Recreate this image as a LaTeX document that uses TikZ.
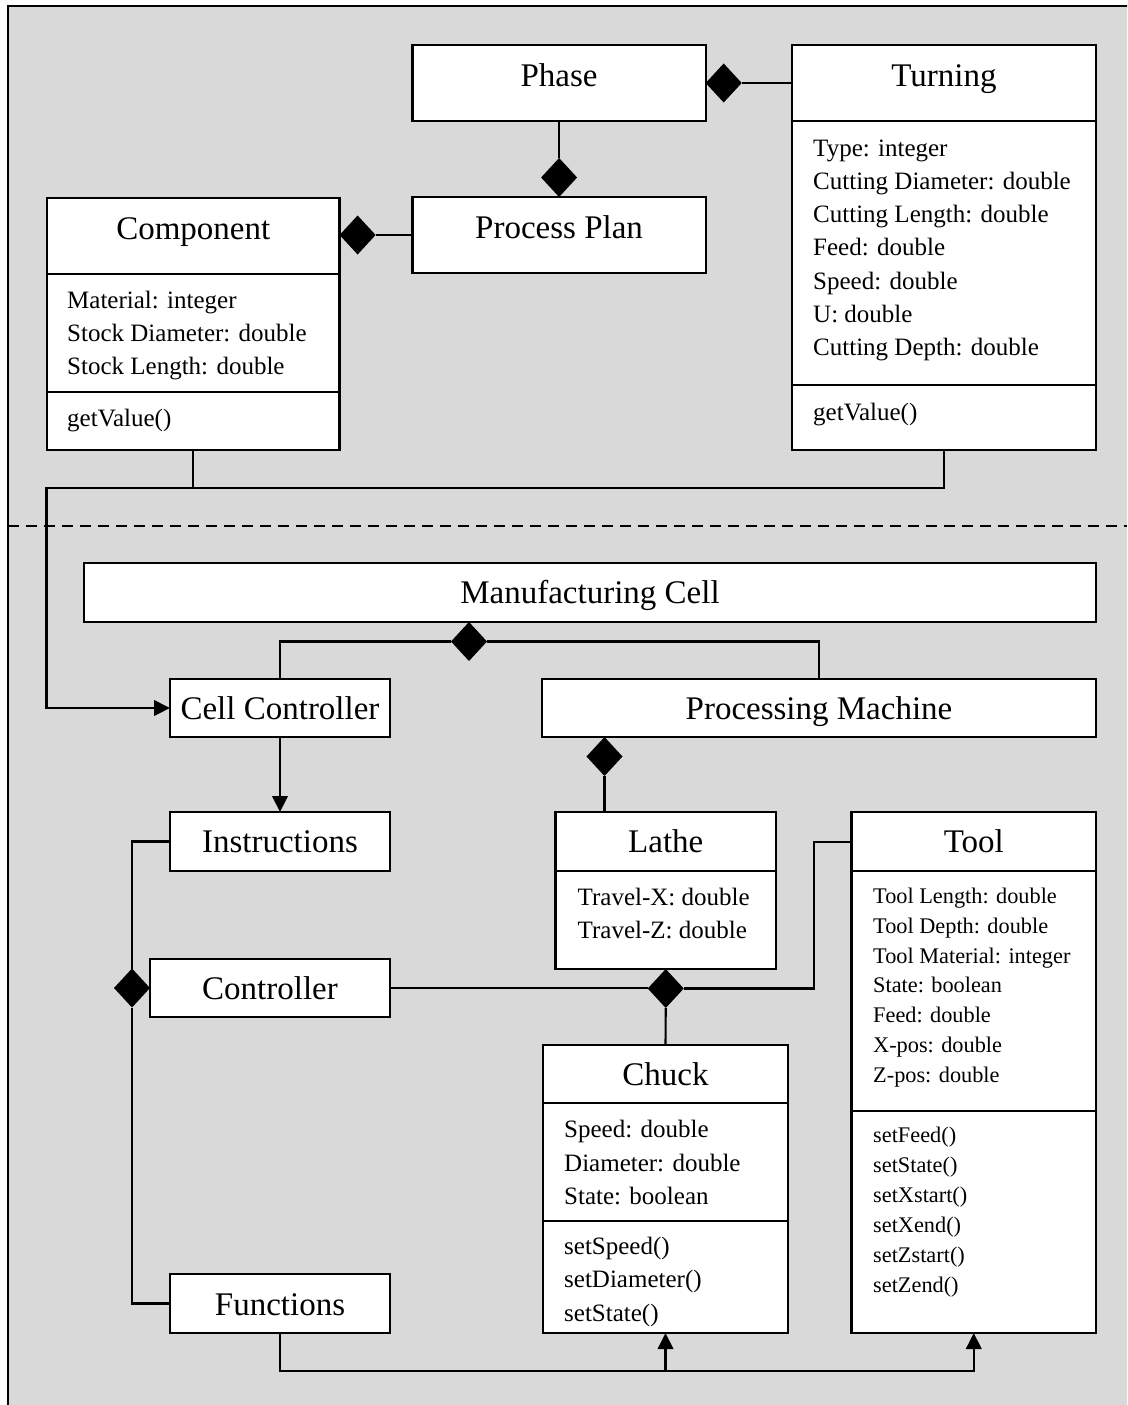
\documentclass[tikz,border=0pt]{standalone}
\usepackage{fontspec}
\setmainfont{Liberation Serif}
\usetikzlibrary{arrows.meta,shapes.geometric,calc}
\definecolor{panelgray}{RGB}{217,217,217}

\tikzset{
  box/.style={draw, fill=white, line width=2.3pt, anchor=north west, inner sep=0pt, outer sep=0pt},
  ttl/.style={font=\fontsize{33}{39}\selectfont, inner sep=0pt, text height=21.8pt, text depth=0pt, anchor=center},
  attr/.style={font=\fontsize{25}{30}\selectfont, inner sep=0pt, text height=16.5pt, text depth=0pt, anchor=west},
  sattr/.style={font=\fontsize{22.3}{27}\selectfont, inner sep=0pt, text height=14.7pt, text depth=0pt, anchor=west},
  comp/.style={diamond, fill=black, minimum width=36pt, minimum height=39pt, inner sep=0pt, outer sep=0pt},
  link/.style={line width=2.1pt},
  sepline/.style={line width=2.3pt},
  arr/.style={link, -{Triangle[length=16pt,width=15.5pt]}},
}

\begin{document}
\begin{tikzpicture}[x=1pt, y=-1pt]
  \useasboundingbox (0,0) rectangle (1127,1405);
  \clip (0,0) rectangle (1127,1405);

  % panel and the dashed divider
  \draw[fill=panelgray, line width=2pt] (7.5,6) rectangle (1140,1420);
  \draw[line width=1.6pt, dash pattern=on 11pt off 7pt] (7.5,526) -- (1127,526);

  % ---------- upper part: process plan ----------
  \node[box, minimum width=293.2pt, minimum height=76pt] (phase) at (412.5,45) {};
  \node[ttl] (phaseT) at ([yshift=-31pt]phase.north) {Phase};

  \node[box, minimum width=293.2pt, minimum height=76pt] (pplan) at (412.5,197) {};
  \node[ttl] (pplanT) at ([yshift=-31pt]pplan.north) {Process Plan};

  \node[box, minimum width=304pt, minimum height=405pt] (turning) at (792,45) {};
  \node[ttl] (turningT) at ([yshift=-31pt]turning.north) {Turning};
  \draw[sepline] ([yshift=-76pt]turning.north west) -- ([yshift=-76pt]turning.north east);
  \draw[sepline] ([yshift=-340pt]turning.north west) -- ([yshift=-340pt]turning.north east);
  \foreach \t [count=\i] in {Type: integer, Cutting Diameter: double, Cutting Length: double,
      Feed: double, Speed: double, U: double, Cutting Depth: double}
    \node[attr] (turninga\i) at ([xshift=21pt,yshift={-103pt-(\i-1)*33.2pt}]turning.north west) {\t};
  \node[attr] (turningm1) at ([xshift=21pt,yshift=-367pt]turning.north west) {getValue()};

  \node[box, minimum width=292.6pt, minimum height=252pt] (comp) at (47,198) {};
  \node[ttl] (compT) at ([yshift=-31pt]comp.north) {Component};
  \draw[sepline] ([yshift=-76pt]comp.north west) -- ([yshift=-76pt]comp.north east);
  \draw[sepline] ([yshift=-194pt]comp.north west) -- ([yshift=-194pt]comp.north east);
  \foreach \t [count=\i] in {Material: integer, Stock Diameter: double, Stock Length: double}
    \node[attr] (compa\i) at ([xshift=20pt,yshift={-102pt-(\i-1)*33.3pt}]comp.north west) {\t};
  \node[attr] (compm1) at ([xshift=20pt,yshift=-220pt]comp.north west) {getValue()};

  % compositions of the plan
  \node[comp, anchor=west] (dpt) at (phase.east) {};
  \draw[link] (dpt.east) -- (dpt.east -| turning.west);
  \node[comp, anchor=south] (dpp) at (pplan.north) {};
  \draw[link] (phase.south) -- (dpp.north);
  \node[comp, anchor=west] (dcp) at (comp.east |- pplan.west) {};
  \draw[link] (dcp.east) -- (pplan.west);

  % ---------- lower part: manufacturing cell ----------
  \node[box, minimum width=1012pt, minimum height=59pt] (mcell) at (84,563) {};
  \node[ttl] (mcellT) at ([yshift=-30pt]mcell.north) {Manufacturing Cell};

  \node[box, minimum width=220pt, minimum height=58pt] (cellctl) at (170,679) {};
  \node[ttl] (cellctlT) at ([yshift=-30pt]cellctl.north) {Cell Controller};

  \node[box, minimum width=554pt, minimum height=58pt] (procm) at (542,679) {};
  \node[ttl] (procmT) at ([yshift=-30pt]procm.north) {Processing Machine};

  \node[box, minimum width=220pt, minimum height=59pt] (instr) at (170,812) {};
  \node[ttl] (instrT) at ([yshift=-30pt]instr.north) {Instructions};

  \node[box, minimum width=240pt, minimum height=58pt] (ctrl) at (150,959) {};
  \node[ttl] (ctrlT) at ([yshift=-30pt]ctrl.north) {Controller};

  \node[box, minimum width=220pt, minimum height=59pt] (funcs) at (170,1274) {};
  \node[ttl] (funcsT) at ([yshift=-31pt]funcs.north) {Functions};

  \node[box, minimum width=220.5pt, minimum height=157pt] (lathe) at (555.5,812) {};
  \node[ttl] (latheT) at ([yshift=-30pt]lathe.north) {Lathe};
  \draw[sepline] ([yshift=-59pt]lathe.north west) -- ([yshift=-59pt]lathe.north east);
  \foreach \t [count=\i] in {Travel-X: double, Travel-Z: double}
    \node[attr] (lathea\i) at ([xshift=22pt,yshift={-85pt-(\i-1)*33.2pt}]lathe.north west) {\t};

  \node[box, minimum width=245pt, minimum height=288pt] (chuck) at (543,1045) {};
  \node[ttl] (chuckT) at ([yshift=-30pt]chuck.north) {Chuck};
  \draw[sepline] ([yshift=-58pt]chuck.north west) -- ([yshift=-58pt]chuck.north east);
  \draw[sepline] ([yshift=-176pt]chuck.north west) -- ([yshift=-176pt]chuck.north east);
  \foreach \t [count=\i] in {Speed: double, Diameter: double, State: boolean}
    \node[attr] (chucka\i) at ([xshift=21pt,yshift={-84.6pt-(\i-1)*33.2pt}]chuck.north west) {\t};
  \foreach \t [count=\i] in {setSpeed(), setDiameter(), setState()}
    \node[attr] (chuckm\i) at ([xshift=21pt,yshift={-201pt-(\i-1)*33.4pt}]chuck.north west) {\t};

  \node[box, minimum width=244.5pt, minimum height=521pt] (tool) at (851.5,812) {};
  \node[ttl] (toolT) at ([yshift=-30pt]tool.north) {Tool};
  \draw[sepline] ([yshift=-59pt]tool.north west) -- ([yshift=-59pt]tool.north east);
  \draw[sepline] ([yshift=-299pt]tool.north west) -- ([yshift=-299pt]tool.north east);
  \foreach \t [count=\i] in {Tool Length: double, Tool Depth: double, Tool Material: integer,
      State: boolean, Feed: double, X-pos: double, Z-pos: double}
    \node[sattr] (toola\i) at ([xshift=21.5pt,yshift={-84pt-(\i-1)*29.85pt}]tool.north west) {\t};
  \foreach \t [count=\i] in {setFeed(), setState(), setXstart(), setXend(), setZstart(), setZend()}
    \node[sattr] (toolm\i) at ([xshift=21.5pt,yshift={-323pt-(\i-1)*30pt}]tool.north west) {\t};

  % link from the plan down to the cell controller
  \coordinate (busL) at (46.5,488);
  \draw[link] (comp.south) -- (comp.south |- busL);
  \draw[arr] (turning.south) |- (busL) |- (cellctl.west);

  % cell compositions
  \node[comp, anchor=north] (dmc) at ([xshift=385pt]mcell.south west) {};
  \draw[link] (dmc.west) -| (cellctl.north);
  \draw[link] (dmc.east) -| (procm.north);
  \draw[arr] (cellctl.south) -- (instr.north);

  \node[comp, anchor=north] (dpm) at ([xshift=62.5pt]procm.south west) {};
  \draw[link] (dpm.south) -- (dpm.south |- lathe.north);

  \node[comp, anchor=north] (dlc) at (lathe.south) {};
  \draw[link] (dlc.south) -- (chuck.north);
  \draw[link] (ctrl.east) -- (ctrl.east -| dlc.west);
  \coordinate (toolin) at ([yshift=-30pt]tool.north west);
  \draw[link] (dlc.east) -| ([xshift=-37.5pt]toolin) -- (toolin);

  \node[comp, anchor=east] (dctl) at (ctrl.west) {};
  \draw[link] (instr.west) -| (dctl.north);
  \draw[link] (dctl.south) |- (funcs.west);

  % functions drive the chuck and the tool
  \coordinate (busB) at (0,1371);
  \draw[arr] (funcs.south) -- (funcs.south |- busB) -| (tool.south);
  \draw[arr] (chuck.south |- busB) -- (chuck.south);
\end{tikzpicture}
\end{document}
